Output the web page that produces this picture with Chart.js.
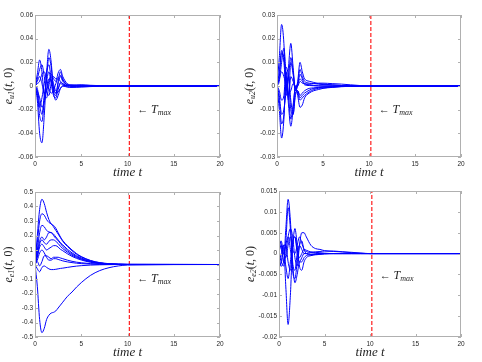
<!DOCTYPE html>
<html>
<head>
<meta charset="utf-8">
<script src="https://cdn.jsdelivr.net/npm/chart.js@4/dist/chart.umd.min.js"></script>
<style>
  body { margin: 0; background: #fff; }
  .cell { position: absolute; width: 241px; height: 181px; }
</style>
</head>
<body>
<div class="cell" style="left:0;top:0"><canvas id="c1" width="241" height="181"></canvas></div>
<div class="cell" style="left:241px;top:0"><canvas id="c2" width="241" height="181"></canvas></div>
<div class="cell" style="left:0;top:181px"><canvas id="c3" width="241" height="181"></canvas></div>
<div class="cell" style="left:241px;top:181px"><canvas id="c4" width="241" height="181"></canvas></div>
<script>
// sample times shared by every curve
const T = [0, 0.25, 0.5, 0.75, 1, 1.25, 1.5, 1.75, 2, 2.25, 2.5, 2.75, 3, 3.5, 4, 4.5, 5, 6, 7, 8, 9, 10, 20];
const T_MAX = 10.2;
const xTicks = [0, 5, 10, 15, 20];

// e_u1(t,0)
const u1 = [
  [0, -0.012, -0.040, -0.048, -0.025, 0.010, 0.031, 0.020, -0.004, -0.008, 0.004, 0.012, 0.006, 0.001, 0.0005, 0.0008, 0.001, 0.0006, 0.0003, 0.0001, 0, 0, 0],
  [0, 0.010, 0.022, 0.012, -0.008, -0.010, 0.000, 0.010, 0.006, 0.004, 0.011, 0.014, 0.008, 0.002, 0.0008, 0.0005, 0.0004, 0.0003, 0.0002, 0.0001, 0, 0, 0],
  [0, -0.006, -0.025, -0.030, -0.012, 0.008, 0.024, 0.016, -0.002, -0.006, 0.002, 0.008, 0.004, 0.001, 0.0004, 0.0006, 0.0007, 0.0004, 0.0002, 0.0001, 0, 0, 0],
  [0, 0.006, 0.014, 0.018, 0.008, -0.004, -0.008, 0.002, 0.008, 0.006, 0.007, 0.009, 0.005, 0.001, -0.0005, -0.0008, -0.0007, -0.0004, -0.0002, -0.0001, 0, 0, 0],
  [0, -0.008, -0.018, -0.010, 0.002, 0.012, 0.018, 0.006, -0.006, -0.012, -0.008, -0.002, 0.000, -0.001, -0.0012, -0.001, -0.0008, -0.0005, -0.0002, -0.0001, 0, 0, 0],
  [0, 0.004, 0.008, 0.002, -0.006, -0.004, 0.004, 0.008, 0.002, -0.004, -0.002, 0.003, 0.002, 0.000, 0.0005, 0.0004, 0.0003, 0.0002, 0.0001, 0, 0, 0, 0],
  [0, -0.004, -0.010, -0.018, -0.014, -0.004, 0.006, 0.004, -0.002, -0.006, -0.005, -0.002, 0.000, 0.0005, -0.0003, -0.0005, -0.0004, -0.0002, -0.0001, 0, 0, 0, 0],
  [0, 0.002, 0.004, 0.010, 0.012, 0.006, -0.002, -0.006, -0.004, 0.002, 0.006, 0.004, 0.002, 0.0005, 0.0008, 0.0006, 0.0005, 0.0003, 0.0001, 0, 0, 0, 0],
  [0, -0.002, -0.016, -0.024, -0.008, 0.004, 0.012, 0.002, -0.008, -0.010, -0.003, 0.002, 0.001, -0.0005, -0.0008, -0.0006, -0.0004, -0.0002, -0.0001, 0, 0, 0, 0]
];
const u1Ticks = [-0.06, -0.04, -0.02, 0, 0.02, 0.04, 0.06];

// e_u2(t,0)
const u2 = [
  [0, 0.012, 0.026, 0.018, -0.004, 0.008, 0.018, 0.008, -0.002, 0.002, 0.010, 0.006, 0.003, 0.002, 0.0015, 0.001, 0.0008, 0.0005, 0.0002, 0.0001, 0, 0, 0],
  [0, -0.010, -0.022, -0.014, 0.006, -0.008, -0.017, -0.010, 0.000, -0.004, -0.009, -0.008, -0.005, -0.003, -0.002, -0.0015, -0.001, -0.0006, -0.0003, -0.0001, 0, 0, 0],
  [0, 0.006, 0.015, 0.010, -0.002, 0.004, 0.012, 0.006, -0.001, 0.001, 0.007, 0.004, 0.002, 0.0012, 0.001, 0.0008, 0.0006, 0.0004, 0.0002, 0.0001, 0, 0, 0],
  [0, -0.006, -0.016, -0.012, 0.004, -0.004, -0.014, -0.008, -0.001, -0.003, -0.006, -0.005, -0.004, -0.0025, -0.0015, -0.001, -0.0008, -0.0005, -0.0002, -0.0001, 0, 0, 0],
  [0, 0.004, 0.014, 0.012, 0.002, -0.004, 0.010, 0.005, -0.002, 0.000, 0.005, 0.003, 0.001, 0.0005, 0.0002, 0.0001, 0, 0, 0, 0, 0, 0, 0],
  [0, -0.004, -0.012, -0.010, -0.002, 0.004, -0.010, -0.012, -0.003, -0.002, -0.004, -0.003, -0.002, -0.001, -0.0008, -0.0006, -0.0004, -0.0003, -0.0001, 0, 0, 0, 0],
  [0, 0.002, 0.010, 0.016, 0.004, -0.006, 0.004, 0.002, -0.001, 0.001, 0.003, 0.002, 0.0005, 0.0002, 0.0001, 0, 0, 0, 0, 0, 0, 0, 0],
  [0, -0.002, -0.006, -0.004, 0.008, 0.004, -0.006, -0.012, -0.004, -0.002, -0.005, -0.004, -0.003, -0.0018, -0.001, -0.0007, -0.0005, -0.0003, -0.0001, 0, 0, 0, 0],
  [0, 0.003, 0.006, 0.004, 0.000, -0.003, -0.002, 0.001, 0.000, 0.000, 0.002, 0.0012, 0.001, 0.0008, 0.001, 0.0012, 0.0012, 0.001, 0.0008, 0.0005, 0.0002, 0, 0]
];
const u2Ticks = [-0.03, -0.02, -0.01, 0, 0.01, 0.02, 0.03];

// e_e1(t,0)
const e1 = [
  [0, 0.20, 0.38, 0.45, 0.42, 0.36, 0.31, 0.28, 0.27, 0.25, 0.22, 0.19, 0.165, 0.13, 0.10, 0.075, 0.055, 0.028, 0.013, 0.006, 0.002, 0.001, 0],
  [0, 0.15, 0.30, 0.35, 0.34, 0.31, 0.29, 0.28, 0.26, 0.235, 0.21, 0.185, 0.16, 0.125, 0.095, 0.07, 0.052, 0.026, 0.012, 0.005, 0.002, 0.001, 0],
  [0, 0.10, 0.22, 0.27, 0.26, 0.235, 0.225, 0.22, 0.21, 0.19, 0.17, 0.15, 0.135, 0.105, 0.08, 0.06, 0.045, 0.022, 0.010, 0.004, 0.0015, 0.0005, 0],
  [0, 0.08, 0.16, 0.19, 0.17, 0.19, 0.22, 0.22, 0.20, 0.18, 0.165, 0.145, 0.125, 0.095, 0.072, 0.054, 0.04, 0.02, 0.009, 0.004, 0.0015, 0.0005, 0],
  [0, 0.06, 0.14, 0.17, 0.15, 0.14, 0.16, 0.17, 0.17, 0.16, 0.145, 0.125, 0.11, 0.085, 0.064, 0.048, 0.036, 0.018, 0.008, 0.003, 0.001, 0, 0],
  [0, 0.05, 0.12, 0.14, 0.12, 0.10, 0.11, 0.12, 0.13, 0.13, 0.12, 0.105, 0.095, 0.074, 0.056, 0.042, 0.031, 0.015, 0.007, 0.003, 0.001, 0, 0],
  [0, 0.02, -0.01, 0.02, 0.06, 0.06, 0.05, 0.04, 0.05, 0.05, 0.05, 0.045, 0.04, 0.03, 0.022, 0.016, 0.012, 0.006, 0.003, 0.001, 0, 0, 0],
  [0, 0.03, 0.08, 0.10, 0.08, 0.05, 0.03, 0.03, 0.04, 0.04, 0.035, 0.03, 0.025, 0.018, 0.013, 0.009, 0.006, 0.003, 0.001, 0, 0, 0, 0],
  [0, -0.03, -0.05, -0.02, -0.01, -0.02, -0.03, -0.035, -0.035, -0.033, -0.03, -0.027, -0.025, -0.02, -0.015, -0.011, -0.008, -0.004, -0.002, -0.001, 0, 0, 0],
  [0, -0.15, -0.38, -0.47, -0.44, -0.38, -0.35, -0.335, -0.33, -0.32, -0.30, -0.28, -0.26, -0.22, -0.19, -0.155, -0.125, -0.075, -0.042, -0.022, -0.01, -0.004, 0]
];
const e1Ticks = [-0.5, -0.4, -0.3, -0.2, -0.1, 0, 0.1, 0.2, 0.3, 0.4, 0.5];

// e_e2(t,0)
const e2 = [
  [0.0035, 0.002, -0.002, 0.006, 0.013, 0.008, -0.002, -0.004, 0.000, 0.002, 0.001, 0.000, 0.000, 0.0002, 0.0001, 0, 0, 0, 0, 0, 0, 0, 0],
  [-0.0035, -0.002, 0.002, -0.008, -0.017, -0.010, 0.002, 0.004, 0.000, -0.002, -0.001, 0.000, 0.000, -0.0002, -0.0001, 0, 0, 0, 0, 0, 0, 0, 0],
  [0.002, 0.003, 0.000, 0.003, 0.011, 0.006, -0.004, -0.006, -0.002, 0.002, 0.003, 0.001, 0.000, -0.0003, -0.0002, -0.0001, 0, 0, 0, 0, 0, 0, 0],
  [0.000, -0.002, -0.003, 0.000, 0.004, 0.006, 0.004, -0.001, -0.003, 0.002, 0.005, 0.005, 0.004, 0.002, 0.0012, 0.001, 0.0007, 0.0005, 0.0004, 0.0003, 0.0001, 0, 0],
  [-0.002, 0.000, 0.002, 0.002, -0.002, -0.004, 0.002, 0.006, 0.002, -0.003, -0.004, -0.002, -0.001, -0.0005, -0.0003, -0.0002, -0.0001, 0, 0, 0, 0, 0, 0],
  [0.001, 0.002, 0.001, -0.003, -0.006, -0.002, 0.003, 0.004, 0.001, -0.001, 0.000, 0.001, 0.0008, 0.0004, 0.0003, 0.0002, 0.0001, 0, 0, 0, 0, 0, 0],
  [-0.001, -0.003, -0.002, 0.002, 0.004, 0.001, -0.003, -0.007, -0.005, -0.002, -0.002, -0.001, -0.0005, -0.0003, -0.0002, -0.0001, 0, 0, 0, 0, 0, 0, 0],
  [0.003, 0.001, 0.000, -0.001, 0.002, 0.004, 0.001, 0.000, 0.002, 0.004, 0.0025, 0.001, 0.0005, 0.0003, 0.0004, 0.0005, 0.0006, 0.0006, 0.0004, 0.0002, 0.0001, 0, 0]
];
const e2Ticks = [-0.02, -0.015, -0.01, -0.005, 0, 0.005, 0.01, 0.015];

const SERIF = "'Liberation Serif', 'DejaVu Serif', serif";
const SANS = "'Liberation Sans', Arial, sans-serif";

function drawRuns(ctx, runs, x, y) {
  // runs of text with their own font and vertical shift, starting at x
  let cx = x;
  runs.forEach(r => {
    ctx.font = r.font;
    ctx.fillText(r.text, cx, y + (r.dy || 0));
    cx += ctx.measureText(r.text).width;
  });
  return cx - x;
}
function runsWidth(ctx, runs) {
  let w = 0;
  runs.forEach(r => { ctx.font = r.font; w += ctx.measureText(r.text).width; });
  return w;
}

const matlabAxes = {
  id: 'matlabAxes',
  afterDraw(chart, args, o) {
    const { ctx, chartArea: a, scales: { x, y } } = chart;
    ctx.save();
    ctx.strokeStyle = '#b0b0b0';
    ctx.lineWidth = 1;
    ctx.strokeRect(a.left + 0.5, a.top + 0.5, a.right - a.left - 1, a.bottom - a.top - 1);
    ctx.beginPath();
    x.ticks.forEach(t => {
      const px = Math.round(x.getPixelForValue(t.value)) + 0.5;
      ctx.moveTo(px, a.bottom); ctx.lineTo(px, a.bottom - 3);
      ctx.moveTo(px, a.top); ctx.lineTo(px, a.top + 3);
    });
    y.ticks.forEach(t => {
      const py = Math.round(y.getPixelForValue(t.value)) + 0.5;
      ctx.moveTo(a.left, py); ctx.lineTo(a.left + 3, py);
      ctx.moveTo(a.right, py); ctx.lineTo(a.right - 3, py);
    });
    ctx.stroke();

    ctx.fillStyle = '#262626';
    ctx.textBaseline = 'middle';
    ctx.textAlign = 'left';
    // x title
    const xr = [{ text: 'time t', font: 'italic 13px ' + SERIF }];
    const xw = runsWidth(ctx, xr);
    drawRuns(ctx, xr, (a.left + a.right) / 2 - xw / 2, a.bottom + 16);

    // y title, rotated
    const yr = [
      { text: 'e', font: 'italic 12px ' + SERIF },
      { text: o.sub, font: 'italic 8px ' + SERIF, dy: 3 },
      { text: '(', font: '12px ' + SERIF },
      { text: 't', font: 'italic 12px ' + SERIF },
      { text: ', 0)', font: '12px ' + SERIF }
    ];
    ctx.save();
    ctx.translate(o.titleX, (a.top + a.bottom) / 2);
    ctx.rotate(-Math.PI / 2);
    drawRuns(ctx, yr, -runsWidth(ctx, yr) / 2, 0);
    ctx.restore();

    // T_max note
    const tx = x.getPixelForValue(T_MAX) + 8;
    const ty = a.top + o.noteFrac * (a.bottom - a.top);
    drawRuns(ctx, [
      { text: '\u2190 ', font: '11px ' + SERIF },
      { text: 'T', font: 'italic 12px ' + SERIF },
      { text: 'max', font: 'italic 8px ' + SERIF, dy: 3 }
    ], tx, ty);
    ctx.restore();
  }
};

function makeChart(id, series, yTicks, sub, box) {
  const yMin = yTicks[0], yMax = yTicks[yTicks.length - 1];
  const datasets = series.map(s => ({
    data: T.map((t, i) => ({ x: t, y: s[i] })),
    borderColor: 'rgb(0,0,255)',
    borderWidth: 1,
    pointRadius: 0,
    cubicInterpolationMode: 'monotone',
    fill: false
  }));
  datasets.push({
    data: [{ x: T_MAX, y: yMin }, { x: T_MAX, y: yMax }],
    borderColor: 'rgb(255,30,30)',
    borderWidth: 1.2,
    borderDash: [4, 2],
    pointRadius: 0
  });
  return new Chart(document.getElementById(id), {
    type: 'line',
    data: { datasets },
    options: {
      responsive: false,
      animation: false,
      devicePixelRatio: 1,
      layout: { padding: { left: 0, top: box.top, right: 241 - box.right, bottom: 0 } },
      plugins: {
        legend: { display: false },
        tooltip: { enabled: false },
        matlabAxes: { sub, titleX: box.titleX, noteFrac: box.noteFrac }
      },
      scales: {
        x: {
          type: 'linear', min: 0, max: 20,
          afterBuildTicks: s => { s.ticks = xTicks.map(v => ({ value: v })); },
          afterFit: s => { s.height = 181 - box.bottom; },
          grid: { display: false, drawTicks: false, tickLength: 0 },
          border: { display: false },
          ticks: { color: '#262626', font: { size: 6.5, family: SANS }, padding: 3, maxRotation: 0, callback: v => String(v) }
        },
        y: {
          type: 'linear', min: yMin, max: yMax,
          afterBuildTicks: s => { s.ticks = yTicks.map(v => ({ value: v })); },
          afterFit: s => { s.width = box.left; },
          grid: { display: false, drawTicks: false, tickLength: 0 },
          border: { display: false },
          ticks: { color: '#262626', font: { size: 6.5, family: SANS }, padding: 2, callback: v => String(v) }
        }
      }
    },
    plugins: [matlabAxes]
  });
}

makeChart('c1', u1, u1Ticks, 'u1', { left: 35, right: 220, top: 15, bottom: 157, titleX: 9, noteFrac: 0.67 });
makeChart('c2', u2, u2Ticks, 'u2', { left: 36, right: 220, top: 15, bottom: 157, titleX: 9, noteFrac: 0.67 });
makeChart('c3', e1, e1Ticks, 'e1', { left: 35, right: 220, top: 11, bottom: 156, titleX: 9, noteFrac: 0.6 });
makeChart('c4', e2, e2Ticks, 'e2', { left: 38, right: 220, top: 10, bottom: 156, titleX: 10, noteFrac: 0.58 });
</script>
</body>
</html>
